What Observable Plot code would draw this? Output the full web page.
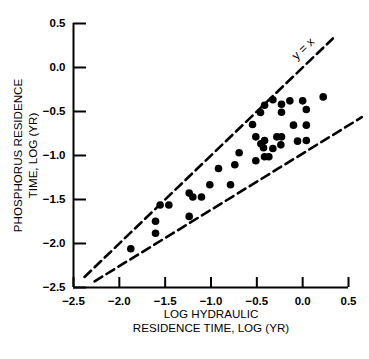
<!DOCTYPE html>
<html>
<head>
<meta charset="utf-8">
<script src="https://cdn.jsdelivr.net/npm/d3@7"></script>
<script src="https://cdn.jsdelivr.net/npm/@observablehq/plot@0.6"></script>
<style>
  html, body { margin: 0; padding: 0; background: #fff; }
  #chart svg { display: block; }
</style>
</head>
<body>
<div id="chart"></div>
<script>
// Log hydraulic residence time (x) and log phosphorus residence time (y)
const hydraulicLog = [
  -1.875, -1.605, -1.605, -1.555, -1.46, -1.238, -1.198, -1.104, -1.238, -1.013,
  -0.918, -0.787, -0.74, -0.693, -0.547, -0.511, -0.511, -0.46, -0.416, -0.456,
  -0.416, -0.427, -0.416, -0.369, -0.325, -0.325, -0.282, -0.231, -0.231, -0.231,
  -0.238, -0.14, -0.1, -0.056, 0.0, 0.04, 0.04, 0.04, 0.224
];
const phosphorusLog = [
  -2.06, -1.884, -1.748, -1.563, -1.563, -1.427, -1.472, -1.472, -1.692, -1.332,
  -1.147, -1.332, -1.105, -0.969, -0.648, -0.788, -1.06, -0.512, -0.429, -0.867,
  -0.83, -0.912, -1.014, -1.014, -0.366, -0.92, -0.788, -0.418, -0.508, -0.788,
  -0.879, -0.379, -0.655, -0.837, -0.379, -0.477, -0.655, -0.83, -0.334
];
// Envelope lines (endpoints)
const upperLineX = [-2.38, 0.33];
const upperLineY = [-2.38, 0.33];
const lowerLineX = [-2.27, 0.645];
const lowerLineY = [-2.43, -0.565];
const xTicks = [-2.5, -2.0, -1.5, -1.0, -0.5, 0.0, 0.5];
const yTicks = [-2.5, -2.0, -1.5, -1.0, -0.5, 0.0, 0.5];
const lineLabel = "y = x";
const lineLabelPos = {x: 0.005, y: 0.213};
const yTitleLines = ["PHOSPHORUS RESIDENCE", "TIME, LOG (YR)"];
const xTitleLines = ["LOG HYDRAULIC", "RESIDENCE TIME, LOG (YR)"];

const points = hydraulicLog.map((x, i) => ({x, y: phosphorusLog[i]}));
const upper = upperLineX.map((x, i) => ({x, y: upperLineY[i]}));
const lower = lowerLineX.map((x, i) => ({x, y: lowerLineY[i]}));
const fmt = d => d.toFixed(1).replace("-", "\u2212");
const xMin = -2.5, yMin = -2.5;

const W = 369, H = 359, ML = 73, MR = 21, MT = 23, MB = 72;
const frameW = W - ML - MR, frameH = H - MT - MB;
const font = "'Liberation Sans', Arial, Helvetica, sans-serif";

const chart = Plot.plot({
  width: W, height: H,
  marginLeft: ML, marginRight: MR, marginTop: MT, marginBottom: MB,
  style: {fontFamily: font, fontSize: "11px", color: "#000", background: "#fff"},
  x: {domain: [-2.5, 0.5]},
  y: {domain: [-2.5, 0.5]},
  marks: [
    // tick labels
    Plot.axisY(yTicks, {anchor: "left", tickSize: 0, tickPadding: 8, tickFormat: fmt, fontWeight: "bold", fontSize: 11.5, label: null}),
    Plot.axisX(xTicks, {anchor: "bottom", tickSize: 0, tickPadding: 9, tickFormat: fmt, fontWeight: "bold", fontSize: 11.5, label: null}),
    // inward ticks
    Plot.tickY(yTicks, {y: d => d, stroke: "#000", strokeWidth: 2, insetRight: frameW - 13}),
    Plot.tickX(xTicks, {x: d => d, stroke: "#000", strokeWidth: 2, insetTop: frameH - 10}),
    // axis lines
    Plot.ruleX([xMin], {strokeWidth: 2}),
    Plot.ruleY([yMin], {strokeWidth: 2}),
    // envelope lines
    Plot.line(upper, {x: "x", y: "y", stroke: "#000", strokeWidth: 2.6, strokeDasharray: "9,5"}),
    Plot.line(lower, {x: "x", y: "y", stroke: "#000", strokeWidth: 2.6, strokeDasharray: "9,5"}),
    // data points
    Plot.dot(points, {x: "x", y: "y", r: 3.8, fill: "#000", stroke: "none"}),
    // line label
    Plot.text([lineLabelPos], {x: "x", y: "y", text: () => lineLabel, rotate: -43.5, fontSize: 12, textAnchor: "middle"}),
    // axis titles (one text per line)
    Plot.text([xTitleLines[0]], {frameAnchor: "bottom", text: d => d, dy: 30, textAnchor: "middle", fontSize: 11.6}),
    Plot.text([xTitleLines[1]], {frameAnchor: "bottom", text: d => d, dy: 44, textAnchor: "middle", fontSize: 11.6}),
    Plot.text([yTitleLines[0]], {frameAnchor: "middle", text: d => d, dx: -(ML + frameW / 2) + 18, rotate: -90, textAnchor: "middle", fontSize: 11.6}),
    Plot.text([yTitleLines[1]], {frameAnchor: "middle", text: d => d, dx: -(ML + frameW / 2) + 33, rotate: -90, textAnchor: "middle", fontSize: 11.6})
  ]
});
document.getElementById("chart").appendChild(chart);
</script>
</body>
</html>
